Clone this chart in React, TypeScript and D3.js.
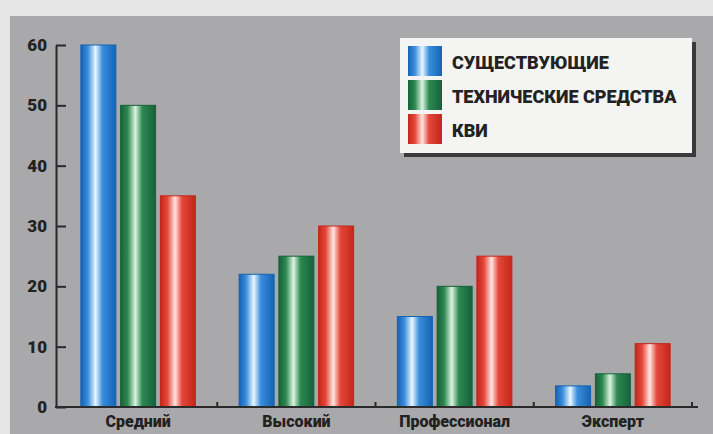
import React, { useEffect, useRef } from 'react';
import * as d3 from 'd3';

const categories = ['Средний', 'Высокий', 'Профессионал', 'Эксперт'];
const seriesNames = ['СУЩЕСТВУЮЩИЕ', 'ТЕХНИЧЕСКИЕ СРЕДСТВА', 'КВИ'];
const existing = [60, 22, 15, 3.5];
const technical = [50, 25, 20, 5.5];
const kvi = [35, 30, 25, 10.5];
const yTicks = [0, 10, 20, 30, 40, 50, 60];

const seriesValues = [existing, technical, kvi];
const palette = [
    { edge: '#1462b4', mid: '#3a8edc', light: '#eaf7ff' },
    { edge: '#15623a', mid: '#2d8850', light: '#dcf4e0' },
    { edge: '#c42618', mid: '#e4463a', light: '#ffe6e0' },
];

const W = 713;
const H = 434;

const App: React.FC = () => {
    const ref = useRef<SVGSVGElement>(null);

    useEffect(() => {
        draw();
        //eslint-disable-next-line
    }, []);

    const draw = () => {
        const svg = d3.select(ref.current);
        svg.selectAll('*').remove();

        const font = 'Roboto, "DejaVu Sans", sans-serif';
        const textColor = '#222';

        // scanned paper look
        svg.append('rect').attr('width', W).attr('height', H).attr('fill', '#e6e6e6');
        svg.append('rect').attr('x', 10).attr('y', 16).attr('width', W - 10).attr('height', H - 16).attr('fill', '#a9a9ab');

        const defs = svg.append('defs');
        palette.forEach((c, i) => {
            const lg = defs.append('linearGradient').attr('id', `cyl${i}`).attr('x1', 0).attr('x2', 1).attr('y1', 0).attr('y2', 0);
            lg.append('stop').attr('offset', '0%').attr('stop-color', c.edge);
            lg.append('stop').attr('offset', '20%').attr('stop-color', c.mid);
            lg.append('stop').attr('offset', '42%').attr('stop-color', c.light);
            lg.append('stop').attr('offset', '62%').attr('stop-color', c.mid);
            lg.append('stop').attr('offset', '100%').attr('stop-color', c.edge);
        });

        const y = d3.scaleLinear().domain([0, 60]).range([407, 45]);
        const x0 = d3.scaleBand().domain(categories).range([59, 692]).paddingInner(0).paddingOuter(0);
        const x1 = d3.scaleBand().domain(seriesNames).range([0, x0.bandwidth()]).paddingInner(0.12).paddingOuter(0.55);

        // bars
        categories.forEach((cat, ci) => {
            seriesNames.forEach((s, si) => {
                const v = seriesValues[si][ci];
                svg.append('rect')
                    .attr('x', (x0(cat) ?? 0) + (x1(s) ?? 0))
                    .attr('y', y(v))
                    .attr('width', x1.bandwidth())
                    .attr('height', y(0) - y(v))
                    .attr('fill', `url(#cyl${si})`)
                    .attr('stroke', palette[si].edge)
                    .attr('stroke-width', 1);
            });
        });

        // y axis
        const yAxis = svg.append('g')
            .attr('transform', 'translate(56,0)')
            .call(d3.axisLeft(y).tickValues(yTicks).tickSizeInner(-10).tickSizeOuter(0).tickPadding(9));
        yAxis.select('.domain').attr('stroke', '#2a2a2a').attr('stroke-width', 2);
        yAxis.selectAll('.tick line').attr('stroke', '#2a2a2a').attr('stroke-width', 2);
        yAxis.selectAll('.tick text')
            .attr('fill', textColor)
            .attr('font-family', font)
            .attr('font-weight', 900)
            .attr('font-size', 17);

        // x axis
        svg.append('line')
            .attr('x1', 55).attr('x2', 698)
            .attr('y1', y(0)).attr('y2', y(0))
            .attr('stroke', '#2a2a2a').attr('stroke-width', 2);
        svg.selectAll('.xtick')
            .data(categories)
            .enter()
            .append('line')
            .attr('x1', d => (x0(d) ?? 0) + x0.bandwidth())
            .attr('x2', d => (x0(d) ?? 0) + x0.bandwidth())
            .attr('y1', y(0))
            .attr('y2', y(0) - 5)
            .attr('stroke', '#2a2a2a')
            .attr('stroke-width', 2);
        svg.selectAll('.xlabel')
            .data(categories)
            .enter()
            .append('text')
            .attr('x', d => (x0(d) ?? 0) + x0.bandwidth() / 2)
            .attr('y', 427)
            .attr('text-anchor', 'middle')
            .attr('fill', textColor)
            .attr('font-family', font)
            .attr('font-weight', 900)
            .attr('font-size', 16)
            .text(d => d);

        // legend
        const lg = svg.append('g').attr('transform', 'translate(400,38)');
        lg.append('rect').attr('x', 4).attr('y', 4).attr('width', 292).attr('height', 115).attr('fill', '#3a3a3a');
        lg.append('rect').attr('width', 292).attr('height', 115).attr('fill', '#f4f4f2');
        seriesNames.forEach((s, i) => {
            lg.append('rect')
                .attr('x', 8).attr('y', 8 + i * 34)
                .attr('width', 34).attr('height', 30)
                .attr('fill', `url(#cyl${i})`);
            lg.append('text')
                .attr('x', 52).attr('y', 31 + i * 34)
                .attr('fill', textColor)
                .attr('font-family', font)
                .attr('font-weight', 900)
                .attr('font-size', 18)
                .text(s);
        });
    };

    return (
        <div style={{ position: 'absolute', left: 0, top: 0 }}>
            <svg ref={ref} width={W} height={H} style={{ display: 'block' }}></svg>
        </div>
    );
};

export default App;
